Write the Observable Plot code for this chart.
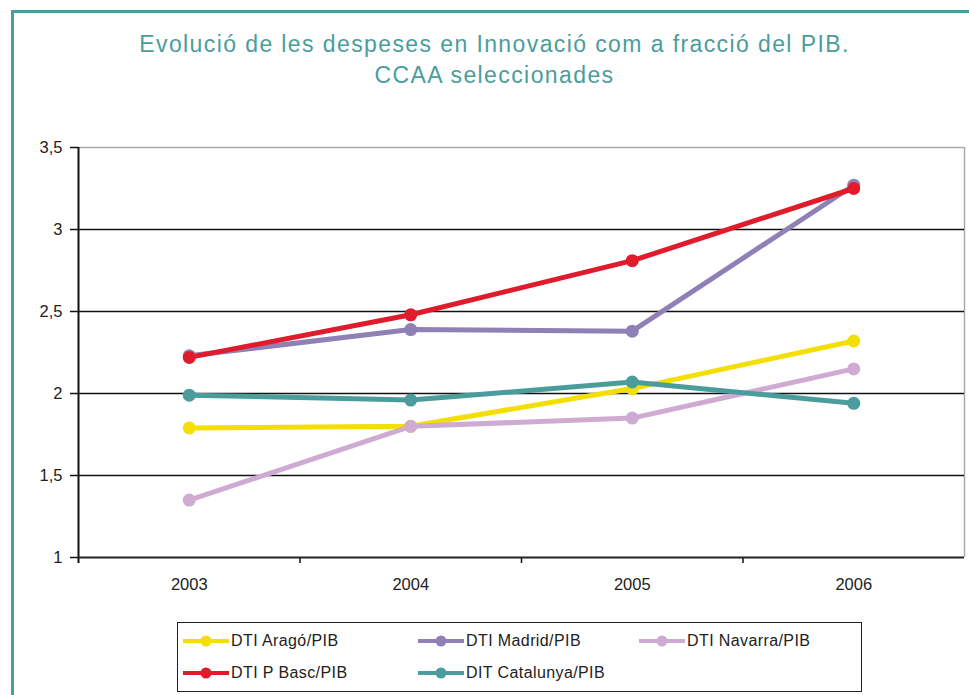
<!DOCTYPE html>
<html>
<head>
<meta charset="utf-8">
<script src="https://cdn.jsdelivr.net/npm/d3@7"></script>
<script src="https://cdn.jsdelivr.net/npm/@observablehq/plot@0.6"></script>
<style>
  body { margin: 0; background: #fff; }
  #wrap { position: relative; width: 969px; height: 695px; overflow: hidden; background: #fff; font-family: "Liberation Sans", Arial, sans-serif; }
  #frame { position: absolute; left: 11px; top: 10px; width: 1000px; height: 1000px; border-left: 3px solid #4a9d9c; border-top: 3px solid #4a9d9c; box-sizing: border-box; }
  #title { position: absolute; left: 10px; top: 29px; width: 969px; text-align: center; color: #4a9d9c; font-size: 23px; line-height: 31px; letter-spacing: 1.4px; }
  #chart { position: absolute; left: 0; top: 100px; }
  #chart svg g[aria-label="y-axis tick label"] text, #chart svg g[aria-label="x-axis tick label"] text { font-size: 16.5px !important; }
  #legend { position: absolute; left: 177px; top: 622px; width: 685px; height: 70px; border: 1.5px solid #222; box-sizing: border-box; }
  .item { position: absolute; display: flex; align-items: center; font-size: 16px; color: #222; letter-spacing: 0.4px; }
  .item svg { margin-right: 1px; }
</style>
</head>
<body>
<div id="wrap">
  <div id="frame"></div>
  <div id="title">Evolució de les despeses en Innovació com a fracció del PIB.<br>CCAA seleccionades</div>
  <div id="chart"></div>
  <div id="legend"></div>
</div>
<script>
const years = [2003, 2004, 2005, 2006];
const seriesNames = ["DTI Aragó/PIB", "DTI Madrid/PIB", "DTI Navarra/PIB", "DTI P Basc/PIB", "DIT Catalunya/PIB"];
const seriesColors = ["#f3df06", "#8f80b6", "#cfaad3", "#e01b2b", "#4a9d9c"];
const arago = [1.79, 1.80, 2.03, 2.32];
const madrid = [2.23, 2.39, 2.38, 3.27];
const navarra = [1.35, 1.80, 1.85, 2.15];
const basc = [2.22, 2.48, 2.81, 3.25];
const catalunya = [1.99, 1.96, 2.07, 1.94];
const yTicks = [1, 1.5, 2, 2.5, 3, 3.5];
const gridValues = [1.5, 2, 2.5, 3];
const xBounds = [2002.5, 2003.5, 2004.5, 2005.5, 2006.5];

const seriesValues = [arago, madrid, navarra, basc, catalunya];
const data = [];
seriesNames.forEach((name, s) => {
  years.forEach((yr, i) => data.push({series: name, year: yr, value: seriesValues[s][i]}));
});

const fmt = d => String(d).replace(".", ",");

const chart = Plot.plot({
  width: 969,
  height: 500,
  marginTop: 47,
  marginBottom: 43,
  marginLeft: 78,
  marginRight: 5,
  style: { fontFamily: "Liberation Sans, Arial, sans-serif", color: "#222", background: "transparent" },
  x: { type: "linear", domain: [xBounds[0], xBounds[xBounds.length - 1]] },
  y: { domain: [1, 3.5] },
  color: { domain: seriesNames, range: seriesColors },
  marks: [
    Plot.ruleY([3.5], { stroke: "#aaa", strokeWidth: 1.5 }),
    Plot.ruleX([xBounds[xBounds.length - 1]], { stroke: "#aaa", strokeWidth: 1.5 }),
    Plot.ruleY(gridValues, { stroke: "#111", strokeWidth: 1.3 }),
    Plot.axisY({ ticks: yTicks, tickFormat: fmt, tickSize: 8, tickPadding: 8, fontSize: 16.5, stroke: "#111", strokeWidth: 1.5, label: null }),
    Plot.axisX({ ticks: years, tickFormat: d => String(d), tickSize: 0, tickPadding: 21, fontSize: 16.5, label: null }),
    Plot.axisX({ ticks: xBounds.slice(1, -1), tickFormat: () => "", tickSize: 6, stroke: "#111", strokeWidth: 1.5, label: null }),
    Plot.ruleX([xBounds[0]], { stroke: "#111", strokeWidth: 2, insetBottom: -6 }),
    Plot.ruleY([1], { stroke: "#222", strokeWidth: 2 }),
    Plot.line(data, { x: "year", y: "value", z: "series", stroke: "series", strokeWidth: 5 }),
    Plot.dot(data, { x: "year", y: "value", fill: "series", r: 6.5 })
  ]
});
document.getElementById("chart").appendChild(chart);

// legend
const legend = document.getElementById("legend");
const positions = [[4, 18], [239, 18], [460, 18], [4, 50], [239, 50]];
seriesNames.forEach((name, i) => {
  const item = document.createElement("div");
  item.className = "item";
  item.style.left = positions[i][0] + "px";
  item.style.top = (positions[i][1] - 10) + "px";
  item.style.height = "20px";
  const c = seriesColors[i];
  item.innerHTML = `<svg width="48" height="16"><line x1="1" y1="8" x2="47" y2="8" stroke="${c}" stroke-width="4"/><circle cx="24" cy="8" r="5.5" fill="${c}"/></svg><span>${name}</span>`;
  legend.appendChild(item);
});
</script>
</body>
</html>
